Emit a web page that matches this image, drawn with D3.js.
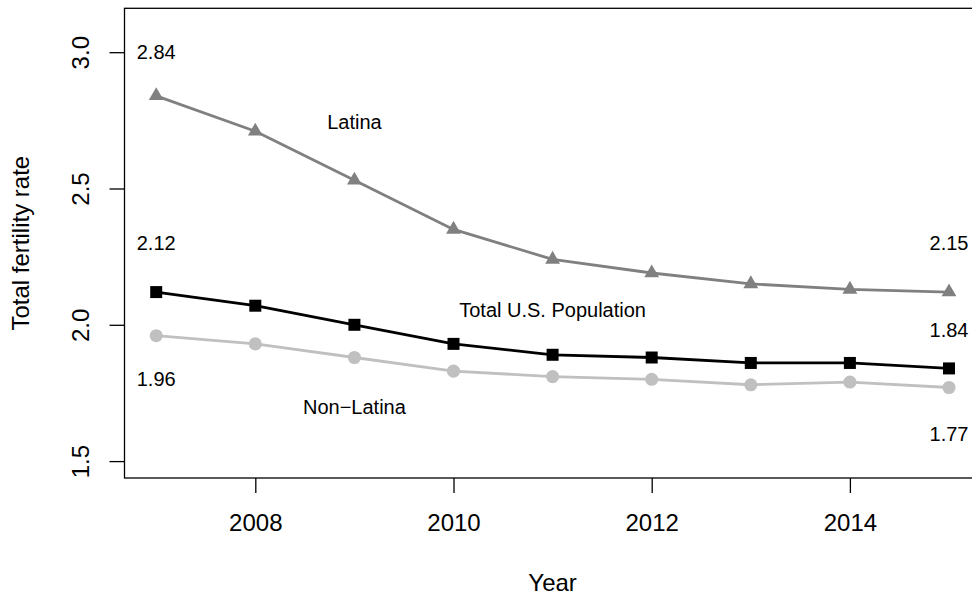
<!DOCTYPE html>
<html>
<head>
<meta charset="utf-8">
<script src="https://cdn.jsdelivr.net/npm/d3@7/dist/d3.min.js"></script>
<style>
  html, body { margin: 0; padding: 0; background: #fff; }
  svg { display: block; font-family: "Liberation Sans", Arial, Helvetica, sans-serif; }
</style>
</head>
<body>
<svg id="chart" width="972" height="596"></svg>
<script>
// ---- data ----
const years = [2007, 2008, 2009, 2010, 2011, 2012, 2013, 2014, 2015];
const latina = [2.84, 2.71, 2.53, 2.35, 2.24, 2.19, 2.15, 2.13, 2.12];
const totalUS = [2.12, 2.07, 2.00, 1.93, 1.89, 1.88, 1.86, 1.86, 1.84];
const nonLatina = [1.96, 1.93, 1.88, 1.83, 1.81, 1.80, 1.78, 1.79, 1.77];
const xTicks = [2008, 2010, 2012, 2014];
const yTicks = [1.5, 2.0, 2.5, 3.0];
const seriesNames = ["Latina", "Total U.S. Population", "Non\u2212Latina"];
const valueLabels = [
  { text: "2.84", year: 2007, value: 3.00 },
  { text: "2.12", year: 2007, value: 2.30 },
  { text: "1.96", year: 2007, value: 1.80 },
  { text: "2.15", year: 2015, value: 2.30 },
  { text: "1.84", year: 2015, value: 1.98 },
  { text: "1.77", year: 2015, value: 1.60 }
];
const nameLabels = [
  { text: seriesNames[0], year: 2009, value: 2.745 },
  { text: seriesNames[1], year: 2011, value: 2.054 },
  { text: seriesNames[2], year: 2009, value: 1.70 }
];

// ---- layout ----
const svg = d3.select("#chart");
const mLeft = 124.5, mRight = 980.7, mTop = 8.3, mBottom = 478;
const x = d3.scaleLinear().domain([2006.68, 2015.32]).range([mLeft, mRight]);
const y = d3.scaleLinear().domain([1.438, 3.161]).range([mBottom, mTop]);

// box
svg.append("rect")
  .attr("x", mLeft).attr("y", mTop)
  .attr("width", mRight - mLeft).attr("height", mBottom - mTop)
  .attr("fill", "none").attr("stroke", "#000").attr("stroke-width", 1.3);

// x axis
const gx = svg.append("g").attr("transform", `translate(0,${mBottom})`)
  .call(d3.axisBottom(x).tickValues(xTicks).tickFormat(d3.format("d")).tickSize(15));
gx.select(".domain").remove();
gx.selectAll(".tick line").attr("stroke", "#000").attr("stroke-width", 1.3);
gx.selectAll(".tick text")
  .attr("y", 45).attr("dy", "0.35em")
  .attr("font-size", 24).attr("fill", "#000")
  .attr("font-family", "Liberation Sans, Arial, sans-serif");

// y axis
const gy = svg.append("g").attr("transform", `translate(${mLeft},0)`)
  .call(d3.axisLeft(y).tickValues(yTicks).tickFormat(d3.format(".1f")).tickSize(15));
gy.select(".domain").remove();
gy.selectAll(".tick line").attr("stroke", "#000").attr("stroke-width", 1.3);
gy.selectAll(".tick text")
  .attr("transform", "rotate(-90)")
  .attr("x", 0).attr("y", -43.5).attr("dy", "0.35em")
  .attr("text-anchor", "middle")
  .attr("font-size", 24).attr("fill", "#000")
  .attr("font-family", "Liberation Sans, Arial, sans-serif");

// axis titles
svg.append("text")
  .attr("x", (mLeft + mRight) / 2).attr("y", 583).attr("dy", "0.35em")
  .attr("text-anchor", "middle").attr("font-size", 24).text("Year");
svg.append("text")
  .attr("transform", `translate(21,${(mTop + mBottom) / 2}) rotate(-90)`)
  .attr("dy", "0.35em")
  .attr("text-anchor", "middle").attr("font-size", 24).text("Total fertility rate");

// series
const series = [
  { values: latina, color: "#808080", symbol: d3.symbolTriangle, size: 95 },
  { values: totalUS, color: "#000000", symbol: d3.symbolSquare, size: 144 },
  { values: nonLatina, color: "#c0c0c0", symbol: d3.symbolCircle, size: 135 }
];
const line = d3.line().x(d => x(d[0])).y(d => y(d[1]));
series.forEach(s => {
  const pts = years.map((yr, i) => [yr, s.values[i]]);
  svg.append("path").datum(pts)
    .attr("d", line).attr("fill", "none")
    .attr("stroke", s.color).attr("stroke-width", 2.8)
    .attr("stroke-linejoin", "round");
  svg.append("g").selectAll("path").data(pts).join("path")
    .attr("transform", d => `translate(${x(d[0])},${y(d[1])})`)
    .attr("d", d3.symbol().type(s.symbol).size(s.size))
    .attr("fill", s.color);
});

// labels
svg.append("g").selectAll("text").data(valueLabels.concat(nameLabels)).join("text")
  .attr("x", d => x(d.year)).attr("y", d => y(d.value))
  .attr("dy", "0.35em").attr("text-anchor", "middle")
  .attr("font-size", 20).attr("fill", "#000")
  .text(d => d.text);
</script>
</body>
</html>
